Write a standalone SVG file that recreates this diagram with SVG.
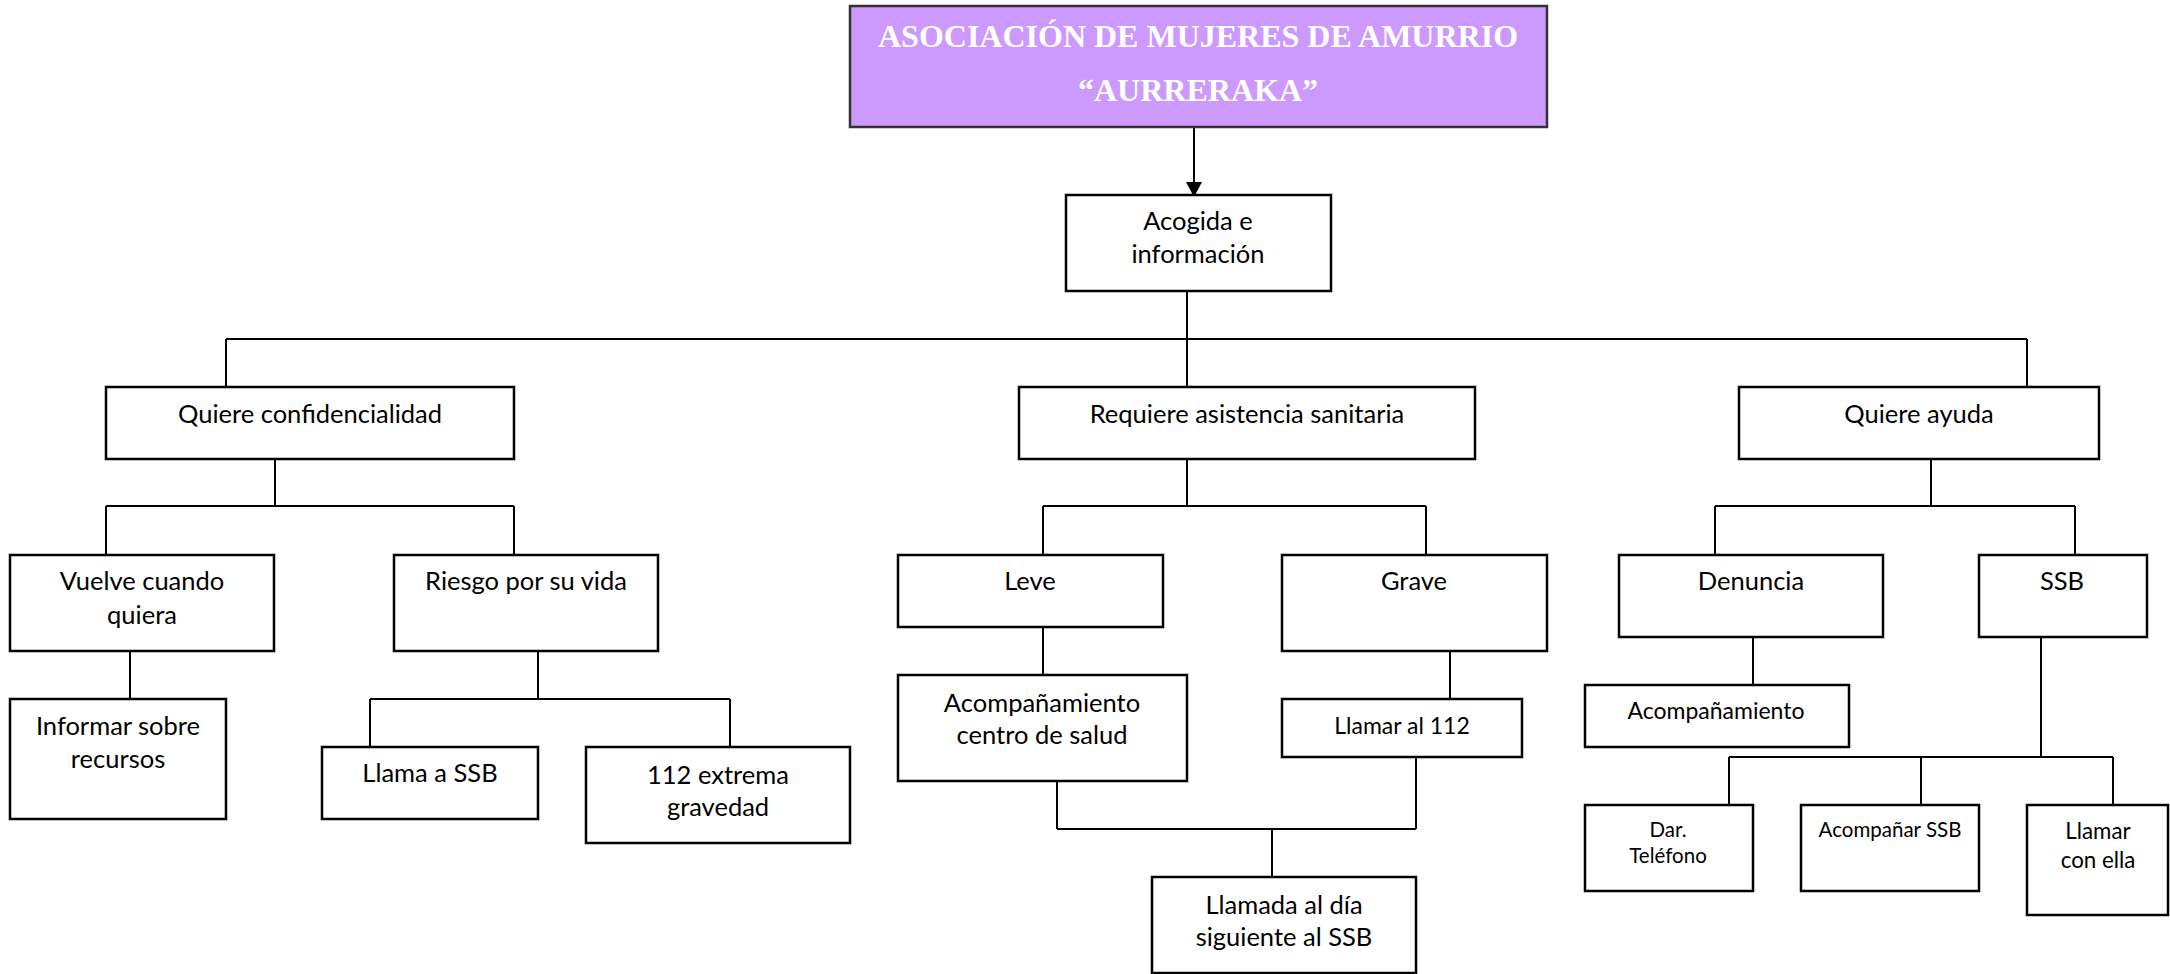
<svg xmlns="http://www.w3.org/2000/svg" width="2170" height="974" viewBox="0 0 2170 974">
<style>
.box{fill:#ffffff;stroke:#000000;stroke-width:2.5}
.title{fill:#CC99FF;stroke:#333333;stroke-width:2.5}
.t{font-family:Lato,"Liberation Sans",sans-serif;font-size:25.5px;fill:#000;text-anchor:middle}
.m{font-size:23px}
.s{font-size:20.5px}
.tt{font-family:"Liberation Serif","Times New Roman",serif;font-weight:bold;font-size:32px;fill:#ffffff;text-anchor:middle}
.c line{stroke:#000;stroke-width:2}
</style>
<defs>
<marker id="arr" viewBox="0 0 16 15" refX="8" refY="15" markerWidth="16" markerHeight="15" markerUnits="userSpaceOnUse" orient="auto-start-reverse">
<path d="M0,0 L16,0 L8,15 Z" fill="#000"/>
</marker>
</defs>
<rect width="2170" height="974" fill="#ffffff"/>
<g id="connectors" class="c">
<line x1="1194" y1="127" x2="1194" y2="182"/>
<path d="M1186,182 L1202,182 L1194,197 Z" fill="#000"/>
<line x1="1187" y1="291" x2="1187" y2="387"/>
<line x1="226" y1="339" x2="2027" y2="339"/>
<line x1="226" y1="339" x2="226" y2="387"/>
<line x1="2027" y1="339" x2="2027" y2="387"/>
<line x1="275" y1="459" x2="275" y2="506"/>
<line x1="106" y1="506" x2="514" y2="506"/>
<line x1="106" y1="506" x2="106" y2="555"/>
<line x1="514" y1="506" x2="514" y2="555"/>
<line x1="1187" y1="459" x2="1187" y2="506"/>
<line x1="1043" y1="506" x2="1426" y2="506"/>
<line x1="1043" y1="506" x2="1043" y2="555"/>
<line x1="1426" y1="506" x2="1426" y2="555"/>
<line x1="1931" y1="459" x2="1931" y2="506"/>
<line x1="1715" y1="506" x2="2075" y2="506"/>
<line x1="1715" y1="506" x2="1715" y2="555"/>
<line x1="2075" y1="506" x2="2075" y2="555"/>
<line x1="130" y1="651" x2="130" y2="699"/>
<line x1="538" y1="651" x2="538" y2="699"/>
<line x1="370" y1="699" x2="730" y2="699"/>
<line x1="370" y1="699" x2="370" y2="747"/>
<line x1="730" y1="699" x2="730" y2="747"/>
<line x1="1043" y1="627" x2="1043" y2="675"/>
<line x1="1450" y1="651" x2="1450" y2="699"/>
<line x1="1057" y1="781" x2="1057" y2="829"/>
<line x1="1416" y1="757" x2="1416" y2="829"/>
<line x1="1057" y1="829" x2="1416" y2="829"/>
<line x1="1272" y1="829" x2="1272" y2="877"/>
<line x1="1753" y1="637" x2="1753" y2="685"/>
<line x1="2041" y1="637" x2="2041" y2="757"/>
<line x1="1729" y1="757" x2="2113" y2="757"/>
<line x1="1729" y1="757" x2="1729" y2="805"/>
<line x1="1921" y1="757" x2="1921" y2="805"/>
<line x1="2113" y1="757" x2="2113" y2="805"/>
</g>
<g id="title">
<rect class="title" x="850" y="6" width="697" height="121"/>
<text class="tt" x="1198" y="47">ASOCIACIÓN DE MUJERES DE AMURRIO</text>
<text class="tt" x="1198" y="101">“AURRERAKA”</text>
</g>
<g id="acogida">
<rect class="box" x="1066" y="195" width="265" height="96"/>
<text class="t" x="1198" y="230">Acogida e</text>
<text class="t" x="1198" y="263">información</text>
</g>
<g id="confidencialidad">
<rect class="box" x="106" y="387" width="408" height="72"/>
<text class="t" x="310" y="423">Quiere confidencialidad</text>
</g>
<g id="sanitaria">
<rect class="box" x="1019" y="387" width="456" height="72"/>
<text class="t" x="1247" y="423">Requiere asistencia sanitaria</text>
</g>
<g id="ayuda">
<rect class="box" x="1739" y="387" width="360" height="72"/>
<text class="t" x="1919" y="423">Quiere ayuda</text>
</g>
<g id="vuelve">
<rect class="box" x="10" y="555" width="264" height="96"/>
<text class="t" x="142" y="590">Vuelve cuando</text>
<text class="t" x="142" y="624">quiera</text>
</g>
<g id="riesgo">
<rect class="box" x="394" y="555" width="264" height="96"/>
<text class="t" x="526" y="590">Riesgo por su vida</text>
</g>
<g id="leve">
<rect class="box" x="898" y="555" width="265" height="72"/>
<text class="t" x="1030" y="590">Leve</text>
</g>
<g id="grave">
<rect class="box" x="1282" y="555" width="265" height="96"/>
<text class="t" x="1414" y="590">Grave</text>
</g>
<g id="denuncia">
<rect class="box" x="1619" y="555" width="264" height="82"/>
<text class="t" x="1751" y="590">Denuncia</text>
</g>
<g id="ssb">
<rect class="box" x="1979" y="555" width="168" height="82"/>
<text class="t" x="2062" y="590">SSB</text>
</g>
<g id="informar">
<rect class="box" x="10" y="699" width="216" height="120"/>
<text class="t" x="118" y="735">Informar sobre</text>
<text class="t" x="118" y="768">recursos</text>
</g>
<g id="llama-ssb">
<rect class="box" x="322" y="747" width="216" height="72"/>
<text class="t" x="430" y="782">Llama a SSB</text>
</g>
<g id="extrema">
<rect class="box" x="586" y="747" width="264" height="96"/>
<text class="t" x="718" y="784">112 extrema</text>
<text class="t" x="718" y="816">gravedad</text>
</g>
<g id="acomp-centro">
<rect class="box" x="898" y="675" width="289" height="106"/>
<text class="t" x="1042" y="712">Acompañamiento</text>
<text class="t" x="1042" y="744">centro de salud</text>
</g>
<g id="llamar-112">
<rect class="box" x="1282" y="699" width="240" height="58"/>
<text class="t m" x="1402" y="734">Llamar al 112</text>
</g>
<g id="llamada-dia">
<rect class="box" x="1152" y="877" width="264" height="96"/>
<text class="t" x="1284" y="914">Llamada al día</text>
<text class="t" x="1284" y="946">siguiente al SSB</text>
</g>
<g id="acompanamiento">
<rect class="box" x="1585" y="685" width="264" height="62"/>
<text class="t m" x="1716" y="719">Acompañamiento</text>
</g>
<g id="dar-telefono">
<rect class="box" x="1585" y="805" width="168" height="86"/>
<text class="t s" x="1668" y="837">Dar.</text>
<text class="t s" x="1668" y="863">Teléfono</text>
</g>
<g id="acompanar-ssb">
<rect class="box" x="1801" y="805" width="178" height="86"/>
<text class="t s" x="1890" y="837">Acompañar SSB</text>
</g>
<g id="llamar-ella">
<rect class="box" x="2027" y="805" width="141" height="110"/>
<text class="t" x="2098" y="839" style="font-size:22.3px">Llamar</text>
<text class="t" x="2098" y="868" style="font-size:22.3px">con ella</text>
</g>
</svg>
